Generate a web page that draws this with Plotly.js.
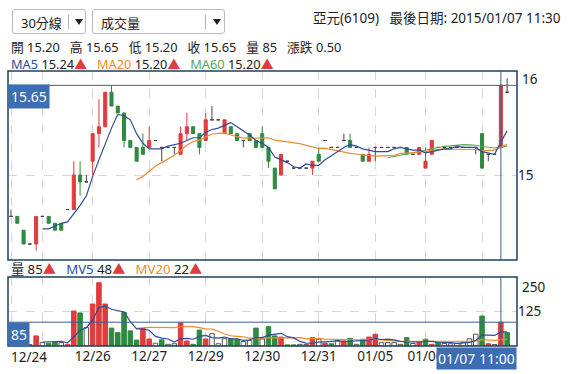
<!DOCTYPE html>
<html><head><meta charset="utf-8">
<script src="https://cdn.plot.ly/plotly-3.0.1.min.js"></script>
<style>
body{margin:0;background:#fff;}
#wrap{position:relative;width:574px;height:374px;overflow:hidden;font-family:"Noto Sans","Noto Sans CJK TC",sans-serif;}
#chart{position:absolute;left:0;top:0;width:574px;height:374px;}
.dd{position:absolute;top:9px;height:25px;border:1px solid #b9b9b9;border-radius:3px;background:#fff;box-sizing:border-box;font-size:13px;color:#222;z-index:5;}
.dd .t{position:absolute;left:8px;top:3px;}
.dd .sep{position:absolute;top:5px;width:1px;height:14px;background:#b0b0b0;}
.dd .arr{position:absolute;top:9px;width:0;height:0;border-left:4px solid transparent;border-right:4px solid transparent;border-top:6px solid #222;}
</style></head>
<body><div id="wrap">
<div id="chart"></div>
<div class="dd" style="left:12px;width:74px;"><span class="t">30分線</span><span class="sep" style="left:55px"></span><span class="arr" style="left:62px"></span></div>
<div class="dd" style="left:92px;width:133px;"><span class="t">成交量</span><span class="sep" style="left:112px"></span><span class="arr" style="left:120px"></span></div>
</div>
<script>
// day tick labels and the bar index where each trading day starts
const dayLabels = ['12/24','12/25','12/26','12/27','12/29','12/30','12/31','01/05','01/06','01/07'];
const dayStart  = [0, 5, 13, 22, 31, 40, 49, 58, 66, 75];

const open = [14.70,14.70,14.60,14.50,14.50,14.70,14.70,14.65,14.65,14.75,
14.75,15.00,14.95,15.10,15.30,15.35,15.60,15.50,15.45,15.25,
15.20,15.20,15.20,15.25,15.20,15.20,15.20,15.15,15.30,15.35,
15.30,15.25,15.40,15.40,15.30,15.35,15.30,15.25,15.30,15.25,
15.30,15.20,15.05,15.00,15.10,15.05,15.05,15.05,15.05,15.15,
15.25,15.20,15.20,15.25,15.25,15.20,15.15,15.10,15.20,15.20,
15.20,15.20,15.20,15.20,15.15,15.15,15.05,15.15,15.20,15.20,
15.20,15.20,15.20,15.20,15.20,15.30,15.15,15.15,15.20,15.60];
const high = [14.75,14.70,14.60,14.50,14.70,14.70,14.70,14.65,14.65,14.75,
15.10,15.10,15.00,15.30,15.55,15.60,15.65,15.50,15.45,15.25,
15.20,15.30,15.35,15.25,15.20,15.20,15.20,15.35,15.45,15.35,
15.30,15.45,15.50,15.40,15.40,15.35,15.30,15.25,15.30,15.25,
15.35,15.20,15.05,15.15,15.10,15.05,15.05,15.05,15.10,15.20,
15.25,15.20,15.20,15.30,15.30,15.20,15.15,15.20,15.20,15.20,
15.20,15.20,15.20,15.20,15.15,15.20,15.20,15.25,15.20,15.20,
15.20,15.20,15.20,15.20,15.20,15.30,15.15,15.15,15.65,15.70];
const low = [14.70,14.65,14.50,14.50,14.45,14.70,14.65,14.60,14.60,14.75,
14.75,14.85,14.95,15.00,15.20,15.35,15.50,15.45,15.20,15.20,
15.10,15.15,15.20,15.25,15.10,15.20,15.15,15.15,15.25,15.30,
15.15,15.25,15.40,15.40,15.30,15.30,15.25,15.20,15.25,15.20,
15.20,15.05,14.90,15.00,15.10,15.05,15.05,15.05,15.00,15.10,
15.25,15.20,15.20,15.25,15.20,15.20,15.10,15.10,15.10,15.20,
15.20,15.20,15.20,15.15,15.15,15.15,15.05,15.15,15.20,15.20,
15.20,15.20,15.20,15.20,15.15,15.05,15.10,15.15,15.20,15.60];
const close = [14.70,14.65,14.50,14.50,14.70,14.70,14.65,14.60,14.60,14.75,
15.00,14.95,14.95,15.30,15.35,15.60,15.50,15.45,15.25,15.20,
15.10,15.15,15.25,15.25,15.20,15.20,15.20,15.30,15.35,15.30,
15.20,15.40,15.40,15.40,15.40,15.30,15.25,15.25,15.25,15.20,
15.20,15.10,14.90,15.15,15.10,15.05,15.05,15.05,15.10,15.10,
15.25,15.20,15.20,15.25,15.20,15.20,15.10,15.15,15.20,15.20,
15.20,15.20,15.20,15.15,15.15,15.20,15.10,15.25,15.20,15.20,
15.20,15.20,15.20,15.20,15.20,15.05,15.15,15.15,15.65,15.60];
const volume = [6,10,8,5,36,12,10,15,12,6,
125,118,66,150,226,150,64,48,120,54,
21,62,25,10,22,6,8,83,18,6,
57,25,44,8,26,25,24,16,20,64,
25,69,36,32,4,4,6,5,30,24,
10,8,20,18,27,6,24,32,42,12,
12,12,6,30,9,14,24,6,14,9,
8,9,12,26,42,107,8,5,85,48];

const RED = '#e03b3d', GREEN = '#2e8a40', DOJI = '#444444';
const C_MA5 = '#2c4c9c', C_MA20 = '#f08a2c', C_MA60 = '#5aa75a';
const cur = 78; // crosshair bar

const xs = close.map((_, i) => i);
function movingAvg(arr, n) {
  return arr.map((_, i) => i < n ? null : arr.slice(i - n + 1, i + 1).reduce((a, b) => a + b, 0) / n);
}
const body = xs.filter(i => open[i] !== close[i]);
const doji = xs.filter(i => open[i] === close[i]);
const pick = (arr, ids) => ids.map(i => arr[i]);

const volColor = xs.map(i => i === 0 || close[i] === close[i - 1] ? '#ffffff' : (close[i] > close[i - 1] ? RED : GREEN));
const volLine = xs.map(i => i === 0 || close[i] === close[i - 1] ? '#555555' : (close[i] > close[i - 1] ? RED : GREEN));

const traces = [
  {type: 'candlestick', x: body, open: pick(open, body), high: pick(high, body), low: pick(low, body), close: pick(close, body),
   xaxis: 'x', yaxis: 'y', whiskerwidth: 0,
   increasing: {line: {color: RED, width: 1}, fillcolor: RED},
   decreasing: {line: {color: GREEN, width: 1}, fillcolor: GREEN}, hoverinfo: 'skip'},
  {type: 'candlestick', x: doji, open: pick(open, doji), high: pick(high, doji), low: pick(low, doji), close: pick(close, doji),
   xaxis: 'x', yaxis: 'y', whiskerwidth: 0,
   increasing: {line: {color: DOJI, width: 1}, fillcolor: DOJI},
   decreasing: {line: {color: DOJI, width: 1}, fillcolor: DOJI}, hoverinfo: 'skip'},
  {type: 'scatter', mode: 'lines', x: xs, y: movingAvg(close, 60), xaxis: 'x', yaxis: 'y', line: {color: C_MA60, width: 1.2}},
  {type: 'scatter', mode: 'lines', x: xs, y: movingAvg(close, 20), xaxis: 'x', yaxis: 'y', line: {color: C_MA20, width: 1.2}},
  {type: 'scatter', mode: 'lines', x: xs, y: movingAvg(close, 5), xaxis: 'x', yaxis: 'y', line: {color: C_MA5, width: 1.2}},
  {type: 'bar', x: xs, y: volume, xaxis: 'x', yaxis: 'y2', width: 0.72,
   marker: {color: volColor, line: {color: volLine, width: 1}}},
  {type: 'scatter', mode: 'lines', x: xs, y: movingAvg(volume, 20), xaxis: 'x', yaxis: 'y2', line: {color: C_MA20, width: 1.2}},
  {type: 'scatter', mode: 'lines', x: xs, y: movingAvg(volume, 5), xaxis: 'x', yaxis: 'y2', line: {color: C_MA5, width: 1.2}}
];

const FONT = '"Noto Sans","Noto Sans CJK TC",sans-serif';
const py = px => (346 - px) / 275;      // pixel row -> paper y
const pxX = px => (px - 8) / 509;       // pixel col -> paper x
const tri = '<span style="color:#e03b3d">▲</span>';
const sp = '\u00a0\u00a0\u00a0';

const annotations = [
  {xref: 'paper', yref: 'paper', x: pxX(563), y: py(18), xanchor: 'right', yanchor: 'middle', showarrow: false,
   text: '亞元(6109)\u00a0\u00a0\u00a0最後日期: 2015/01/07 11:30', font: {size: 13.5, color: '#222', family: FONT}},
  {xref: 'paper', yref: 'paper', x: pxX(9), y: py(55), xanchor: 'left', yanchor: 'middle', align: 'left', showarrow: false,
   text: '開 15.20' + sp + '高 15.65' + sp + '低 15.20' + sp + '收 15.65' + sp + '量 85' + sp + '漲跌 0.50' + '<br>' +
         '<span style="color:' + C_MA5 + '">MA5</span> 15.24' + tri + sp + '<span style="color:' + C_MA20 + '">MA20</span> 15.20' + tri + sp + '<span style="color:' + C_MA60 + '">MA60</span> 15.20' + tri,
   font: {size: 12.8, color: '#222', family: FONT}},
  {xref: 'paper', yref: 'paper', x: pxX(9), y: py(269), xanchor: 'left', yanchor: 'middle', showarrow: false,
   text: '量 85' + tri + sp + '<span style="color:' + C_MA5 + '">MV5</span> 48' + tri + sp + '<span style="color:' + C_MA20 + '">MV20</span> 22' + tri,
   font: {size: 13.2, color: '#222', family: FONT}},
  // right axis top labels
  {xref: 'paper', yref: 'paper', x: 1, y: 1, xanchor: 'left', yanchor: 'top', xshift: 3, yshift: 3, showarrow: false,
   text: '16', font: {size: 13.5, color: '#222', family: FONT}},
  {xref: 'paper', yref: 'paper', x: 1, y: py(277), xanchor: 'left', yanchor: 'top', xshift: 3, yshift: 1, showarrow: false,
   text: '250', font: {size: 13.5, color: '#222', family: FONT}},
  // first day label kept inside the frame
  {xref: 'x', yref: 'paper', x: dayStart[0], y: 0, xanchor: 'left', yanchor: 'top', xshift: -2, yshift: 0, showarrow: false,
   text: dayLabels[0], font: {size: 13.5, color: '#222', family: FONT}},
  // crosshair value boxes
  {xref: 'paper', yref: 'y', x: 0, y: close[cur], xanchor: 'left', yanchor: 'top', yshift: 1, showarrow: false,
   text: close[cur].toFixed(2), bgcolor: '#3d6db3', borderpad: 2, font: {size: 14, color: '#fff', family: FONT}},
  {xref: 'paper', yref: 'y2', x: 0, y: volume[cur], xanchor: 'left', yanchor: 'top', showarrow: false,
   text: String(volume[cur]), bgcolor: '#3d6db3', borderpad: 2, font: {size: 14, color: '#fff', family: FONT}},
  {xref: 'paper', yref: 'paper', x: 1, y: 0, xanchor: 'right', yanchor: 'top', yshift: -1, showarrow: false,
   text: dayLabels[9] + ' 11:00', bgcolor: '#3d6db3', borderpad: 1, font: {size: 14, color: '#fff', family: FONT}}
];

const BORDER = '#20405f', CROSS = '#3a5f8f';
const mainBottom = py(260), volTop = py(277);
const shapes = [
  {type: 'rect', xref: 'paper', yref: 'paper', x0: 0, x1: 1, y0: mainBottom, y1: 1, line: {color: BORDER, width: 1.5}},
  {type: 'rect', xref: 'paper', yref: 'paper', x0: 0, x1: 1, y0: 0, y1: volTop, line: {color: BORDER, width: 1.5}},
  {type: 'line', xref: 'x', yref: 'paper', x0: cur, x1: cur, y0: mainBottom, y1: 1, line: {color: CROSS, width: 1}, layer: 'above'},
  {type: 'line', xref: 'x', yref: 'paper', x0: cur, x1: cur, y0: 0, y1: volTop, line: {color: CROSS, width: 1}, layer: 'above'},
  {type: 'line', xref: 'paper', yref: 'y', x0: 0, x1: 1, y0: close[cur], y1: close[cur], line: {color: CROSS, width: 1}, layer: 'above'},
  {type: 'line', xref: 'paper', yref: 'y2', x0: 0, x1: 1, y0: volume[cur], y1: volume[cur], line: {color: CROSS, width: 1}, layer: 'above'}
];

const tickText = dayLabels.map((d, k) => (k === 0 || k === 1 || k === 9) ? '' : d);

const layout = {
  width: 574, height: 374,
  margin: {l: 8, r: 57, t: 71, b: 28},
  paper_bgcolor: '#fff', plot_bgcolor: '#fff',
  showlegend: false, hovermode: false,
  font: {family: FONT, size: 13.5, color: '#222'},
  xaxis: {range: [-0.48, 80.57], anchor: 'y2', tickmode: 'array', tickvals: dayStart, ticktext: tickText,
          showgrid: true, gridcolor: '#d6d6d6', griddash: 'dash', gridwidth: 1, zeroline: false, showline: false,
          ticks: '', rangeslider: {visible: false}, tickfont: {size: 13.5}},
  yaxis: {domain: [mainBottom, 1], range: [14.384, 15.754], side: 'right', anchor: 'x', tickmode: 'array', tickvals: [15], ticktext: ['15'],
          showgrid: true, gridcolor: '#d6d6d6', griddash: 'dash', zeroline: false, showline: false, ticks: '', tickfont: {size: 13.5}},
  yaxis2: {domain: [0, volTop], range: [0, 246.4], side: 'right', anchor: 'x', tickmode: 'array', tickvals: [125], ticktext: ['125'],
          showgrid: true, gridcolor: '#d6d6d6', griddash: 'dash', zeroline: false, showline: false, ticks: '', tickfont: {size: 13.5}},
  annotations: annotations,
  shapes: shapes
};

Plotly.newPlot('chart', traces, layout, {staticPlot: true, displayModeBar: false});
</script>
</body></html>
